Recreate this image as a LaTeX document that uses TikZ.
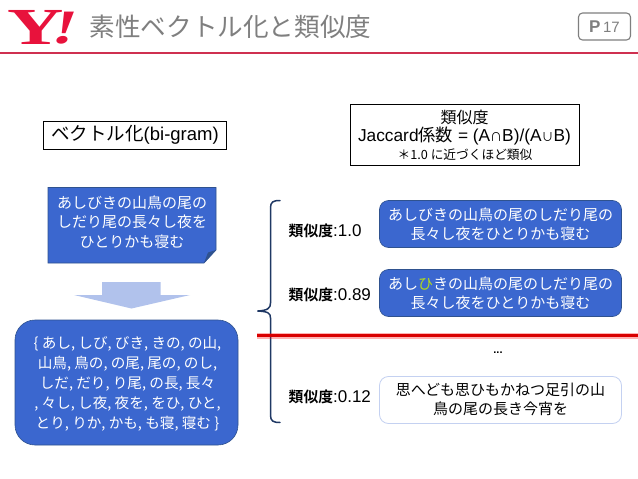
\documentclass[tikz,border=0pt]{standalone}
\usepackage{fontspec}
\setmainfont{Liberation Sans}
\newfontfamily\cjk{Noto Sans CJK JP}
\newfontfamily\cjkb{Noto Sans CJK JP Bold}
\newfontfamily\serifb{Liberation Serif}
\newcommand{\fs}[1]{\fontsize{#1}{#1}\selectfont}
\definecolor{boxblue}{HTML}{3B67CF}
\definecolor{boxedge}{HTML}{2F528F}
\definecolor{bracec}{HTML}{1F3864}
\definecolor{yred}{HTML}{E8123C}
\definecolor{rulec}{HTML}{CF3050}
\definecolor{titleg}{HTML}{7F7F7F}
\tikzset{
  txt/.style={inner sep=0pt,align=center,font=\cjk\fs{15},text=black},
  wtxt/.style={txt,text=white},
  framebox/.style={draw=black,line width=0.7pt,fill=white,inner sep=0pt,align=center},
  bluebox/.style={draw=boxedge,line width=0.6pt,fill=boxblue,rounded corners=9pt,minimum width=242pt,minimum height=47pt,inner sep=0pt,align=center,text=white,font=\cjk\fs{15}},
}
\begin{document}
\begin{tikzpicture}[x=1pt,y=-1pt]
\useasboundingbox (0,0) rectangle (638,479);
\fill[white] (0,0) rectangle (638,479);
% header
\node[inner sep=0pt,text=yred,font=\serifb\bfseries\fs{52}] (logoY) at (35.5,27) {\scalebox{1.5}[1.0]{Y}};
\node[inner sep=0pt,text=yred,xslant=0.25,font=\serifb\bfseries\fs{48}] (logoB) at (66,28) {\scalebox{1.4}[1.0]{!}};
\node[inner sep=0pt,anchor=west,text=titleg,font=\cjk\fs{25.6}] (title) at (89.5,27) {素性ベクトル化と類似度};
\draw[rulec,line width=1.3pt] (0,53) -- (638,53);
\node[draw=titleg,line width=1.1pt,rounded corners=4pt,minimum width=52pt,minimum height=27pt,inner sep=0pt,text=titleg,font=\fs{15}] (page) at (604.5,26.5) {{\fs{17}\textbf{P}}\,17};
% framed boxes
\node[framebox,minimum width=183pt,minimum height=27.5pt] (vec) at (135,135.2) {\fs{18.5}{\cjk ベクトル化}(bi-gram)};
\node[framebox,minimum width=229pt,minimum height=61pt] (sim) at (464.5,134.5) {};
\node[txt,font=\cjk\fs{16}] (sim1) at (464.5,117) {類似度};
\node[txt,font=\fs{17.3}] (sim2) at (464.5,136) {Jaccard{\cjk 係数} = (A{\cjk\fs{12}∩}B)/(A{\cjk\fs{12}∪}B)};
\node[txt,font=\cjk\fs{12.7}] (sim3) at (465,154.5) {＊1.0 に近づくほど類似};
% note
\draw[boxedge,line width=0.6pt,fill=boxblue] (48,187.5) -- (216,187.5) -- (216,250) -- (204,263) -- (48,263) -- cycle;
\fill[boxedge] (216,250) -- (204,263) -- (208,252.5) -- cycle;
\node[wtxt,font=\cjk\fs{15}] (note) at (132,222) {\parbox{165pt}{\centering\baselineskip=19.7pt あしびきの山鳥の尾の\\しだり尾の長々し夜を\\ひとりかも寝む}};
% arrow
\fill[fill=boxblue!40!white] (102,282) -- (160.5,282) -- (160.5,295) -- (190,295) -- (131.5,308.5) -- (74,295) -- (102,295) -- cycle;
% bigram
\node[draw=boxedge,line width=0.6pt,fill=boxblue,rounded corners=20pt,minimum width=223pt,minimum height=125pt,inner sep=0pt] (bi) at (126.5,382.5) {};
\node[wtxt,font=\cjk\fs{14.6}] (bitext) at (127.5,384) {\parbox{220pt}{\centering\baselineskip=20pt
 \{ あし, しび, びき, きの, の山,\\山鳥, 鳥の, の尾, 尾の, のし,\\しだ, だり, り尾, の長, 長々\\, 々し, し夜, 夜を, をひ, ひと,\\とり, りか, かも, も寝, 寝む \}}};
% brace
\draw[bracec,line width=1.5pt,line cap=round] (280,200.5) .. controls (273,200.5) and (270.5,202) .. (270.5,208) -- (270.5,303) .. controls (270.5,308) and (268,310.5) .. (257.5,311) .. controls (268,311.5) and (270.5,313) .. (270.5,318) -- (270.5,415) .. controls (270.5,421) and (273,422.5) .. (280,422.5);
% red line
\draw[red,opacity=0.3,line width=6pt] (257,335.5) -- (638,335.5);
\draw[red!85!black,line width=3.6pt] (257,335.5) -- (638,335.5);
% labels
\node[txt,anchor=west,font=\fs{17}] (l1) at (288.5,230.5) {{\cjkb\fs{14.8}類似度}:1.0};
\node[txt,anchor=west,font=\fs{17}] (l2) at (288.5,295) {{\cjkb\fs{14.8}類似度}:0.89};
\node[txt,anchor=west,font=\fs{17}] (l3) at (288.5,396.5) {{\cjkb\fs{14.8}類似度}:0.12};
% right boxes
\node[bluebox] (b1) at (500.5,224) {};
\node[wtxt] (t1) at (500.5,224) {\parbox{235pt}{\centering\baselineskip=19pt あしびきの山鳥の尾のしだり尾の\\長々し夜をひとりかも寝む}};
\node[bluebox] (b2) at (500.5,293) {};
\node[wtxt] (t2) at (500.5,293) {\parbox{235pt}{\centering\baselineskip=19pt あし\textcolor{yellow!70!green}{ひ}きの山鳥の尾のしだり尾の\\長々し夜をひとりかも寝む}};
\node[txt,font=\bfseries\fs{11}] (dots) at (498,353) {...};
\node[bluebox,draw=boxblue!30!white,fill=white,line width=0.8pt,text=black] (b3) at (500.5,400) {};
\node[txt] (t3) at (500.5,399.5) {\parbox{235pt}{\centering\baselineskip=18.5pt 思へども思ひもかねつ足引の山\\鳥の尾の長き今宵を}};
\end{tikzpicture}
\end{document}
